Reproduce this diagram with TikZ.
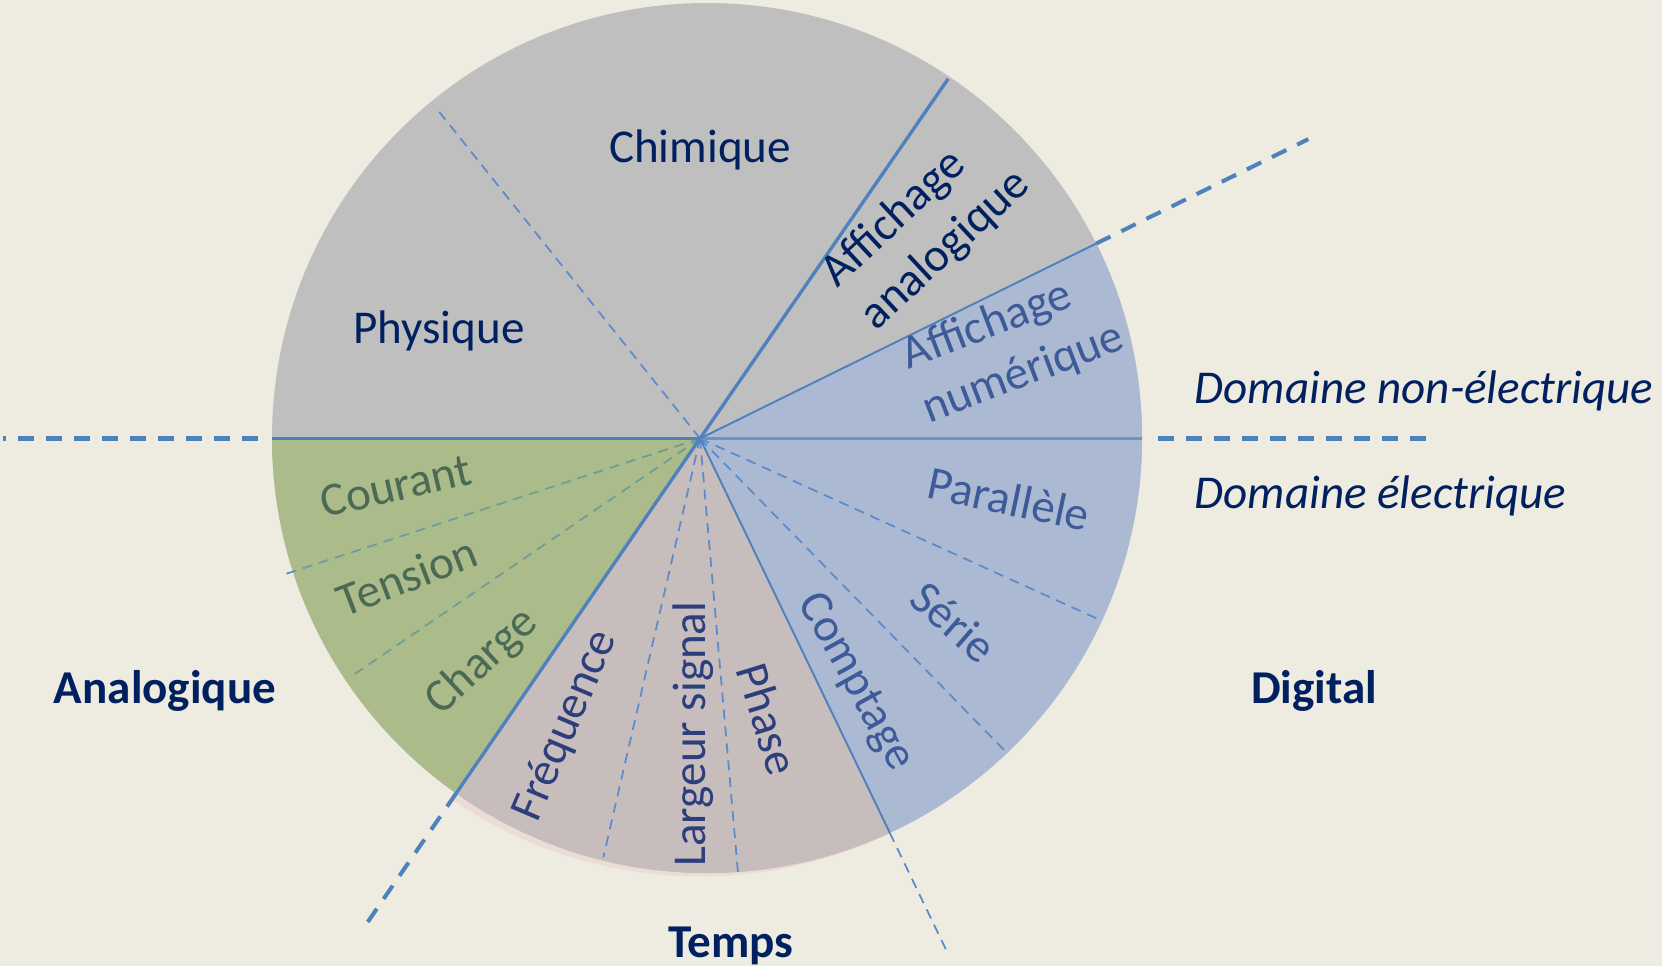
\documentclass[tikz,border=0pt]{standalone}
\usepackage{fontspec}
\setmainfont{Carlito}
\usepackage{xcolor}
\usetikzlibrary{calc}
\definecolor{Canvas}{HTML}{EEECE1}
\definecolor{PieGrey}{HTML}{BFBFBF}
\definecolor{PieGreen}{HTML}{ABBB8A}
\definecolor{PiePink}{HTML}{C7BDBD}
\definecolor{PinkRim}{HTML}{EBDDD6}
\definecolor{PieBlue}{HTML}{ACB9D3}
\definecolor{LineBlue}{HTML}{4F81BD}
\definecolor{LineLight}{HTML}{6495CD}
\definecolor{DashBlue}{HTML}{5B8BCB}
\definecolor{DashGreen}{HTML}{6E9E96}
\definecolor{Navy}{HTML}{002060}
\definecolor{TextGreen}{HTML}{4B6A55}
\definecolor{TextPink}{HTML}{2D3E7C}
\definecolor{TextBlue}{HTML}{3D5B98}
\newcommand{\piefont}{\fontsize{13.4}{16.5}\selectfont}

\begin{document}
\begin{tikzpicture}[x=0.1mm,y=0.1mm,
  every node/.style={font=\piefont,text=Navy,inner sep=0pt},
  head/.style={font=\piefont\bfseries},
  domtext/.style={font=\piefont\itshape,anchor=base west},
  outdash/.style={LineBlue,line width=1.15pt,dash pattern=on 0.16cm off 0.12cm},
  innerdash/.style={DashBlue,line width=0.5pt,dash pattern=on 0.1cm off 0.07cm}]
\useasboundingbox (0,0) rectangle (1662,-966);
\fill[Canvas] (0,0) rectangle (1662,-966);
\coordinate (C) at (707,-438); \coordinate (O) at (700,-438.5);
% the disc and its coloured sectors
\fill[PinkRim] (O) -- ($(O)+(235.5:438)$) arc[start angle=235.5,end angle=295.7,radius=438] -- cycle;
\fill[PieGrey] (C) circle[radius=435];
\begin{scope}
\clip (C) circle[radius=435];
\fill[PieBlue] (O) -- ($(O)+(-64.3:700)$) arc[start angle=-64.3,end angle=26.2,radius=700] -- cycle;
\fill[PieGreen] (O) -- ($(O)+(180:700)$) arc[start angle=180,end angle=235.5,radius=700] -- cycle;
\fill[PiePink] (O) -- ($(O)+(235.5:700)$) arc[start angle=235.5,end angle=295.7,radius=700] -- cycle;
\end{scope}
% rim points
\coordinate (W) at ($(O)+(180:428)$); \coordinate (E) at ($(O)+(0:442)$);
\coordinate (NA) at ($(O)+(55.4:437)$); \coordinate (NB) at ($(O)+(26.2:441.5)$);
\coordinate (SA) at ($(O)+(235.5:430.6)$); \coordinate (SB) at ($(O)+(295.7:437.6)$);
% dashed splits inside the sectors
\draw[innerdash] (O) -- ($(O)+(128.6:420)$);
\draw[innerdash,DashGreen] (O) -- ($(O)+(198.1:428)$);
\draw[DashBlue,line width=0.5pt] ($(O)+(198.1:428)$) -- ($(O)+(198.1:435)$);
\draw[innerdash,DashGreen] (O) -- ($(O)+(214.3:420)$);
\draw[innerdash] (O) -- ($(O)+(257:430)$);
\draw[innerdash] (O) -- ($(O)+(275:436)$);
\draw[innerdash] (O) -- ($(O)+(-24.4:436)$);
\draw[innerdash] (O) -- ($(O)+(-45.7:437)$);
% solid borders
\draw[LineBlue,line width=1.1pt] (W) -- (O);
\draw[LineLight,line width=1.1pt] (O) -- (E);
\draw[LineBlue,line width=0.95pt] (O) -- (NA);
\draw[LineBlue,line width=0.55pt] (O) -- (NB);
\draw[LineBlue,line width=0.95pt] (O) -- (SA);
\draw[LineBlue,line width=0.55pt] (O) -- (SB);
% borders carried on outside the disc
\draw[outdash] (258,-438.5) -- (3,-438.5);
\draw[outdash] (1158,-438.5) -- (1426,-438.5);
\draw[outdash] (NB) -- ($(O)+(26.2:678)$);
\draw[outdash] (SA) -- ($(O)+(235.5:592)$);
\draw[innerdash] (SB) -- ($(O)+(295.7:568)$);
% sector labels
\node (chim) at (700,-150) {Chimique};
\node (phys) at (439,-331) {Physique};
\node[rotate=43,align=left] (affana) at (926,-229) {Affichage\\analogique};
\node[rotate=21,align=left,text=TextBlue] (affnum) at (1013,-347) {Affichage\\numérique};
\node[rotate=13,text=TextGreen] (cour) at (396,-486) {Courant};
\node[rotate=21,text=TextGreen] (tens) at (407,-576) {Tension};
\node[rotate=43,text=TextGreen] (charg) at (482,-662) {Charge};
\node[rotate=67,text=TextPink] (freq) at (566,-726) {Fréquence};
\node[rotate=90,text=TextPink] (larg) at (693,-734) {Largeur signal};
\node[rotate=-73,text=TextPink] (phase) at (768,-719) {Phase};
\node[rotate=-61,text=TextBlue] (compt) at (855,-682) {Comptage};
\node[rotate=-41,text=TextBlue] (serie) at (954,-622) {Série};
\node[rotate=-12,text=TextBlue] (para) at (1009,-499) {Parallèle};
% group names
\node[head] (analog) at (165,-691) {Analogique};
\node[head] (digit) at (1314,-691) {Digital};
\node[head] (temps) at (731,-946) {Temps};
\node[domtext] (nonelec) at (1194,-403) {Domaine non-électrique};
\node[domtext] (elec) at (1194,-508) {Domaine électrique};
\end{tikzpicture}
\end{document}
